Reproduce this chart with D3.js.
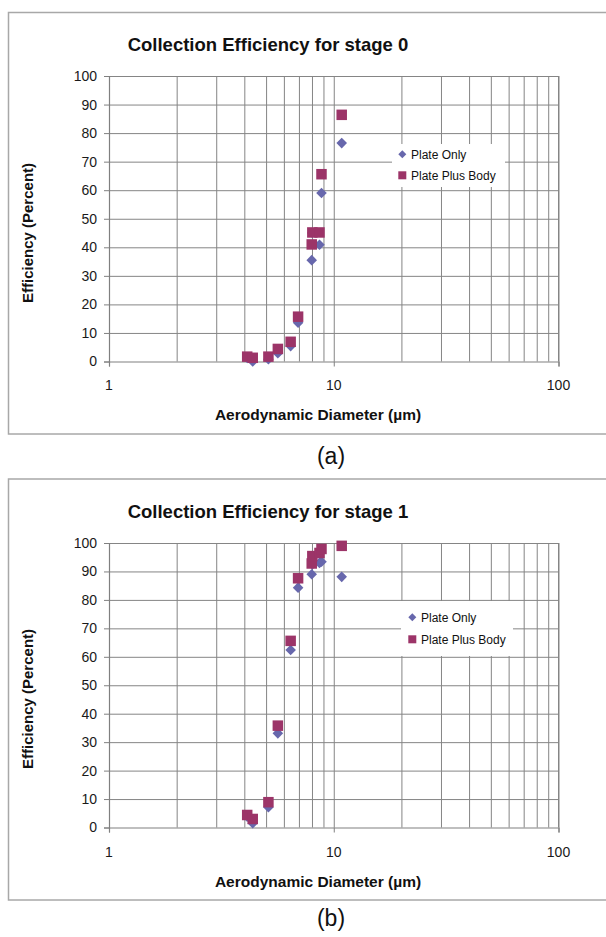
<!DOCTYPE html>
<html><head><meta charset="utf-8">
<script src="https://cdn.jsdelivr.net/npm/d3@7"></script>
<style>
html,body{margin:0;padding:0;background:#fff;}
svg{display:block;font-family:"Liberation Sans",Arial,sans-serif;}
</style></head>
<body>
<svg id="c" width="606" height="937"></svg>
<script>
// ---- data ----
const diameters = [4.12, 4.36, 5.12, 5.64, 6.43, 6.94, 7.98, 8.03, 8.64, 8.82, 10.85];
const stage0PlateOnly = [1.2, 0.0, 0.8, 2.9, 5.4, 13.6, 35.5, 45.0, 40.9, 59.0, 76.5];
const stage0PlatePlusBody = [1.7, 1.3, 1.7, 4.4, 6.9, 15.7, 41.0, 45.2, 45.2, 65.6, 86.4];
const stage1PlateOnly = [3.8, 1.5, 7.1, 33.1, 62.4, 84.3, 89.0, 92.5, 93.0, 93.4, 88.1];
const stage1PlatePlusBody = [4.4, 3.0, 8.9, 35.8, 65.6, 87.6, 92.8, 95.4, 96.5, 97.9, 99.0];
const seriesNames = ["Plate Only", "Plate Plus Body"];
const titles = ["Collection Efficiency for stage 0", "Collection Efficiency for stage 1"];
const captions = ["(a)", "(b)"];
const yTicks = [0, 10, 20, 30, 40, 50, 60, 70, 80, 90, 100];
const xMajor = [1, 10, 100];
const xTickLabels = ["1", "10", "100"];
const xMinor = [2,3,4,5,6,7,8,9,20,30,40,50,60,70,80,90];
const xTitle = "Aerodynamic Diameter (\u00b5m)";
const yTitle = "Efficiency (Percent)";

const colPO = "#6767ac", colPPB = "#9c3468";
const svg = d3.select("#c");

const panels = [
  {frameTop: 12.5, frameBottom: 434, yTop: 76, yBot: 361.5, titleY: 45, tickY: 385, xTitleY: 415, yTitleC: 233, capY: 456,
   legend: {x: 392, y: 144, w: 113, h: 43, r1: 154.3, r2: 175.3, mx: 402.3, tx: 411},
   po: stage0PlateOnly, ppb: stage0PlatePlusBody},
  {frameTop: 479, frameBottom: 900, yTop: 543, yBot: 827.5, titleY: 512, tickY: 852, xTitleY: 882, yTitleC: 699, capY: 918,
   legend: {x: 401, y: 601, w: 112, h: 55, r1: 617.3, r2: 639.3, mx: 412.3, tx: 421},
   po: stage1PlateOnly, ppb: stage1PlatePlusBody}
];

panels.forEach((p, i) => {
  const g = svg.append("g");
  // frame
  g.append("rect").attr("x", 8.5).attr("y", p.frameTop).attr("width", 640).attr("height", p.frameBottom - p.frameTop)
    .attr("fill", "#fff").attr("stroke", "#a8a8a8").attr("stroke-width", 1.5);

  const x = d3.scaleLog().domain([1, 100]).range([109, 558.5]);
  const y = d3.scaleLinear().domain([0, 100]).range([p.yBot, p.yTop]);

  // vertical gridlines
  g.append("g").attr("transform", `translate(0,${p.yTop})`)
    .call(d3.axisBottom(x).tickValues(xMinor.concat([10, 100])).tickSize(p.yBot - p.yTop).tickFormat(""))
    .call(s => s.select(".domain").remove())
    .call(s => s.selectAll("line").attr("stroke", "#858585").attr("stroke-width", 1));
  // horizontal gridlines
  g.append("g").attr("transform", `translate(109,0)`)
    .call(d3.axisRight(y).tickValues(yTicks.slice(1)).tickSize(558.5 - 109).tickFormat(""))
    .call(s => s.select(".domain").remove())
    .call(s => s.selectAll("line").attr("stroke", "#858585").attr("stroke-width", 1));

  // y axis
  const ya = g.append("g").attr("transform", `translate(109,0)`)
    .call(d3.axisLeft(y).tickValues(yTicks).tickSize(5).tickPadding(7));
  ya.select(".domain").attr("stroke", "#808080").attr("stroke-width", 1.2);
  ya.selectAll("line").attr("stroke", "#808080");
  ya.selectAll("text").attr("font-size", 14).attr("fill", "#1a1a1a").attr("font-family", "Liberation Sans, Arial");

  // x axis
  const xa = g.append("g").attr("transform", `translate(0,${p.yBot})`)
    .call(d3.axisBottom(x).tickValues(xMajor).tickSize(5).tickFormat((d, k) => xTickLabels[k]));
  xa.select(".domain").attr("stroke", "#808080").attr("stroke-width", 1.2);
  xa.selectAll("line").attr("stroke", "#808080");
  xa.selectAll("text").remove();
  g.selectAll(".xl").data(xMajor).join("text")
    .attr("x", d => x(d)).attr("y", p.tickY).attr("dy", "0.35em").attr("text-anchor", "middle")
    .attr("font-size", 14).attr("fill", "#1a1a1a").text((d, k) => xTickLabels[k]);
  // right border of plot
  g.append("line").attr("x1", 558.5).attr("x2", 558.5).attr("y1", p.yTop).attr("y2", p.yBot)
    .attr("stroke", "#858585");

  // titles
  g.append("text").attr("x", 268).attr("y", p.titleY).attr("dy", "0.35em").attr("text-anchor", "middle")
    .attr("font-size", 18.5).attr("font-weight", "bold").attr("fill", "#111").text(titles[i]);
  g.append("text").attr("x", 318).attr("y", p.xTitleY).attr("dy", "0.35em").attr("text-anchor", "middle")
    .attr("font-size", 15.5).attr("font-weight", "bold").attr("fill", "#111").text(xTitle);
  g.append("text").attr("transform", `translate(28,${p.yTitleC}) rotate(-90)`).attr("dy", "0.35em").attr("text-anchor", "middle")
    .attr("font-size", 15).attr("font-weight", "bold").attr("fill", "#111").text(yTitle);
  svg.append("text").attr("x", 331).attr("y", p.capY).attr("dy", "0.35em").attr("text-anchor", "middle")
    .attr("font-size", 23).attr("fill", "#111").text(captions[i]);

  // points
  const sq = 10.5, dm = 5.3;
  const diamond = (cx, cy, r) => `M${cx},${cy - r}L${cx + r},${cy}L${cx},${cy + r}L${cx - r},${cy}Z`;
  g.selectAll(".po").data(diameters.map((d, k) => [d, p.po[k]])).join("path")
    .attr("d", d => diamond(x(d[0]), y(d[1]), dm)).attr("fill", colPO);
  g.selectAll(".ppb").data(diameters.map((d, k) => [d, p.ppb[k]])).join("rect")
    .attr("x", d => x(d[0]) - sq / 2).attr("y", d => y(d[1]) - sq / 2).attr("width", sq).attr("height", sq)
    .attr("fill", colPPB);

  // legend
  const L = p.legend;
  g.append("rect").attr("x", L.x).attr("y", L.y).attr("width", L.w).attr("height", L.h).attr("fill", "#fff");
  g.append("path").attr("d", diamond(L.mx, L.r1, 4)).attr("fill", colPO);
  g.append("rect").attr("x", L.mx - 4).attr("y", L.r2 - 4).attr("width", 8).attr("height", 8).attr("fill", colPPB);
  g.append("text").attr("x", L.tx).attr("y", L.r1).attr("dy", "0.35em").attr("font-size", 12).attr("fill", "#111").text(seriesNames[0]);
  g.append("text").attr("x", L.tx).attr("y", L.r2).attr("dy", "0.35em").attr("font-size", 12).attr("fill", "#111").text(seriesNames[1]);
});
</script>
</body></html>
